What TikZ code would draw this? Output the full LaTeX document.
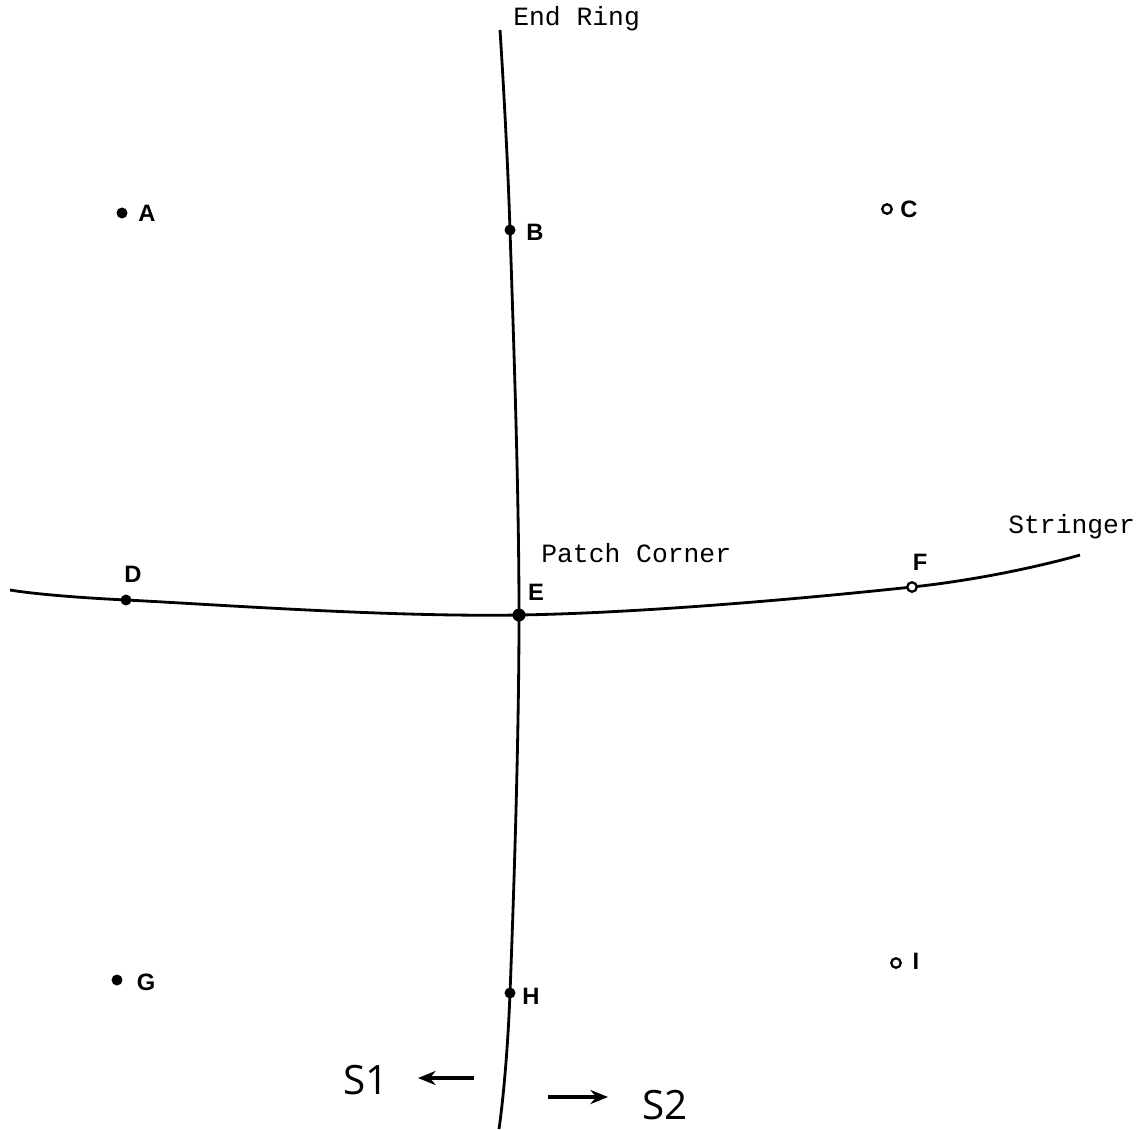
\documentclass[tikz,border=0pt]{standalone}
\usepackage{fontspec}
\setmainfont{Liberation Sans}
\newfontfamily\monofont{Liberation Mono}
\newfontfamily\arrowfont{Open Sans}
\usetikzlibrary{arrows.meta}

\begin{document}
\begin{tikzpicture}[
    x=0.02cm, y=-0.02cm,
    curve/.style={line width=1.6pt, color=black},
    dot/.style={circle, fill=black, inner sep=0pt, minimum size=0.22cm},
    odot/.style={circle, draw=black, fill=white, line width=1.3pt, inner sep=0pt, minimum size=0.19cm},
    ptlabel/.style={font=\fontsize{13.5}{15}\selectfont\bfseries, inner sep=1pt},
    tag/.style={font=\monofont\fontsize{15}{17}\selectfont, inner sep=0pt, anchor=west},
    dir/.style={font=\arrowfont\fontsize{23}{26}\selectfont, inner sep=0pt},
    arr/.style={-{Stealth[length=10pt, width=8pt]}, line width=2.4pt},
]
\useasboundingbox (0,0) rectangle (1148,1129);

% points on the curves
\coordinate (ringtop) at (500,30);
\coordinate (B)       at (510,230);
\coordinate (E)       at (519,615);
\coordinate (H)       at (510,993);
\coordinate (ringbot) at (499,1129);
\coordinate (strleft) at (10,590);
\coordinate (D)       at (126,600);
\coordinate (F)       at (912,587);
\coordinate (strright) at (1080,555);

% end ring and stringer
\draw[curve] plot[smooth, tension=0.6] coordinates {(ringtop) (B) (E) (H) (ringbot)};
\draw[curve] plot[smooth, tension=0.6] coordinates {(strleft) (D) (E) (F) (strright)};

% grid points
\node[dot]  (pA) at (122,213) {};
\node[dot]  (pB) at (B) {};
\node[odot] (pC) at (887,209) {};
\node[dot]  (pD) at (D) {};
\node[dot, minimum size=0.26cm] (pE) at (E) {};
\node[odot] (pF) at (F) {};
\node[dot]  (pG) at (117,980) {};
\node[dot]  (pH) at (H) {};
\node[odot] (pI) at (896,963) {};

\node[ptlabel] (lA) at (147,213) {A};
\node[ptlabel] (lB) at (535,232) {B};
\node[ptlabel] (lC) at (909,209) {C};
\node[ptlabel] (lD) at (133,574) {D};
\node[ptlabel] (lE) at (536,592) {E};
\node[ptlabel] (lF) at (920,562) {F};
\node[ptlabel] (lG) at (146,982) {G};
\node[ptlabel] (lH) at (531,996) {H};
\node[ptlabel] (lI) at (916,961) {I};

% captions
\node[tag] (ring)   at (513,19)  {End Ring};
\node[tag] (corner) at (541,553) {Patch Corner};
\node[tag] (str)    at (1008,527) {Stringer};

% sides
\node[dir] (s1) at (366,1080) {S1};
\node[dir] (s2) at (665,1105) {S2};
\coordinate (a1s) at (474,1078);
\coordinate (a1e) at (418,1078);
\coordinate (a2s) at (548,1097);
\coordinate (a2e) at (608,1097);
\draw[arr] (a1s) -- (a1e);
\draw[arr] (a2s) -- (a2e);
\end{tikzpicture}
\end{document}
